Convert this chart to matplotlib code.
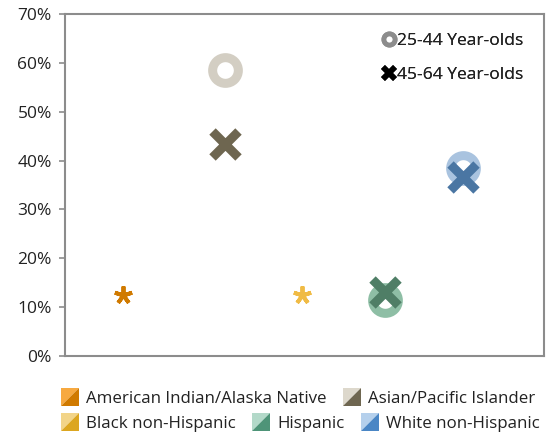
import matplotlib
matplotlib.use("Agg")
import matplotlib.pyplot as plt
from matplotlib.legend_handler import HandlerBase
from matplotlib.patches import Polygon, Patch
from matplotlib.lines import Line2D
from matplotlib.ticker import PercentFormatter

plt.rcParams['font.family'] = ['Open Sans', 'DejaVu Sans']

groups = ["American Indian/Alaska Native", "Asian/Pacific Islander",
          "Black non-Hispanic", "Hispanic", "White non-Hispanic"]
x_pos = [0.73, 2.0, 2.97, 4.01, 4.99]
age_25_44 = [None, 58.5, None, 11.5, 38.5]
age_45_64 = [None, 43.3, None, 13.2, 36.6]
suppressed = [12.5, None, 12.5, None, None]
light_colors = ["#F7A940", "#DDD8CC", "#F2D488", "#B3D9C9", "#B5D0EC"]
dark_colors = ["#D07A00", "#6E6650", "#DCA620", "#4E9478", "#4A86C5"]
ring_colors = ["#F7A940", "#D3CEC3", "#F2C050", "#8EBEA5", "#A9C3DF"]
x_colors = ["#D07A00", "#6E6650", "#DCA620", "#4F7E66", "#4A76A3"]
star_colors = ["#D07A00", None, "#F0BB45", None, None]
yticks = [0, 10, 20, 30, 40, 50, 60, 70]

fig = plt.figure(figsize=(5.54, 4.33), dpi=100)
ax = fig.add_axes([65/554, 1-356/433, (544-65)/554, (356-14)/433])

for i in range(len(groups)):
    if age_25_44[i] is not None:
        ax.plot(x_pos[i], age_25_44[i], marker='o', ms=18.5, mew=6.5,
                mfc='none', mec=ring_colors[i], ls='none', zorder=2)
    if age_45_64[i] is not None:
        ax.plot(x_pos[i], age_45_64[i], marker='x', ms=19, mew=6.5,
                color=x_colors[i], ls='none', zorder=3)
    if suppressed[i] is not None:
        ax.plot(x_pos[i], suppressed[i], marker=(5, 2, 0), ms=13, mew=2.8,
                color=star_colors[i], ls='none', zorder=3)

ax.set_xlim(0, 6)
ax.set_ylim(0, 70)
ax.set_yticks(yticks)
ax.yaxis.set_major_formatter(PercentFormatter(decimals=0))
ax.set_xticks([])
for s in ax.spines.values():
    s.set_color('#8C8C8C')
    s.set_linewidth(1.5)
ax.tick_params(axis='y', length=4.5, width=1.2, color='#8C8C8C',
               labelsize=12.5, labelcolor='#222222', pad=5)

# top-right legend
h1 = Line2D([], [], marker='o', ms=8, mew=3.5, mfc='white', mec='#8C8C8C', ls='none')
h2 = Line2D([], [], marker='x', ms=9, mew=4, color='black', ls='none')
leg1 = ax.legend([h1, h2], ["25-44 Year-olds", "45-64 Year-olds"],
                 loc='upper right', frameon=False, fontsize=12.5,
                 handlelength=0.7, handletextpad=0.15, labelspacing=1.0,
                 bbox_to_anchor=(0.99, 0.99))
ax.add_artist(leg1)


class SplitHandler(HandlerBase):
    def create_artists(self, legend, orig_handle, xdescent, ydescent,
                       width, height, fontsize, trans):
        light, dark = orig_handle.light, orig_handle.dark
        s = width
        x0 = -xdescent
        y0 = -ydescent + (height - s) / 2
        p1 = Polygon([[x0, y0], [x0, y0 + s], [x0 + s, y0 + s]], closed=True,
                     facecolor=light, edgecolor='none', transform=trans)
        p2 = Polygon([[x0, y0], [x0 + s, y0], [x0 + s, y0 + s]], closed=True,
                     facecolor=dark, edgecolor='none', transform=trans)
        return [p1, p2]


def make_handle(i):
    p = Patch()
    p.light = light_colors[i]
    p.dark = dark_colors[i]
    return p


handles = [make_handle(i) for i in range(5)]
hm = {h: SplitHandler() for h in handles}
common = dict(handler_map=hm, loc='upper left', frameon=False, fontsize=12.2,
              handlelength=1.05, handleheight=0.95, handletextpad=0.45,
              columnspacing=0.95, borderpad=0.0, borderaxespad=0.0)
legA = fig.legend(handles[:2], groups[:2], ncol=2,
                  bbox_to_anchor=(61/554, 1-390/433), **common)
legB = fig.legend(handles[2:], groups[2:], ncol=3,
                  bbox_to_anchor=(61/554, 1-415/433), **common)
for leg in (leg1, legA, legB):
    for t in leg.get_texts():
        t.set_color('#222222')

fig.savefig("out.png", dpi=100)
